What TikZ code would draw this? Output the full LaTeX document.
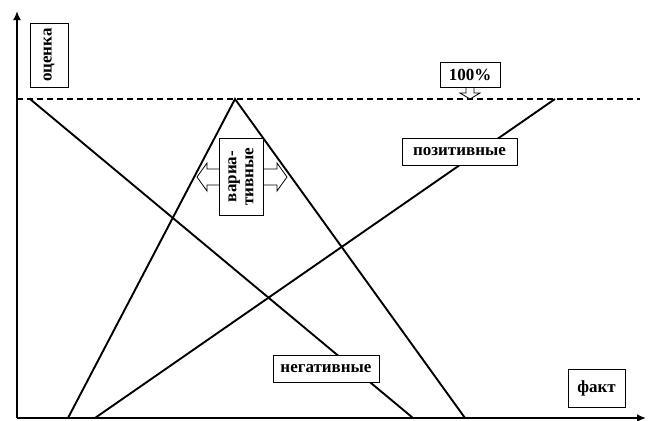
\documentclass[tikz,border=0pt]{standalone}
\usepackage{fontspec}
\setmainfont{Liberation Serif}
\usetikzlibrary{arrows.meta}
\begin{document}
\begin{tikzpicture}[x=1pt,y=-1pt,>={Latex[length=9pt,width=8pt]},
  lbl/.style={draw,fill=white,line width=0.8pt,inner sep=0pt,
    font=\fontsize{17}{17}\selectfont\bfseries}]
\useasboundingbox (0,0) rectangle (649,421);
% axes
\coordinate (O) at (17,418);
\coordinate (ytop) at (17,11);
\coordinate (xend) at (646,418);
\draw[->,line width=2.6pt] (O)--(ytop);
\draw[->,line width=2.6pt] (O)--(xend);
% 100% level
\coordinate (full0) at (17,99);
\coordinate (full1) at (640,99);
\draw[line width=1.2pt,dash pattern=on 6pt off 4pt] (full0)--(full1);
% the three lines
\coordinate (neg0) at (30,99);
\coordinate (neg1) at (413,418);
\coordinate (pos0) at (95,418);
\coordinate (pos1) at (555,99);
\coordinate (varL) at (68,418);
\coordinate (varT) at (235,99);
\coordinate (varR) at (465,418);
\draw[line width=1.9pt] (neg0)--(neg1);
\draw[line width=1.9pt] (pos0)--(pos1);
\draw[line width=1.9pt,line join=miter] (varL)--(varT)--(varR);
% block arrows
\coordinate (pct) at (470,99);
\draw[fill=white,line width=0.8pt] (pct)--++(-10,-6)--++(6,0)--++(0,-7)
  --++(8,0)--++(0,7)--++(6,0)--cycle;
\coordinate (var) at (242,177);
\draw[fill=white,line width=0.8pt] (var)++(-45,0)--++(10,-14)--++(0,6)
  --++(70,0)--++(0,-6)--++(10,14)--++(-10,14)--++(0,-6)--++(-70,0)
  --++(0,6)--cycle;
% labels
\node[lbl,rotate=90,minimum width=64pt,minimum height=38pt] (ocenka) at (49,55) {оценка};
\node[lbl,minimum width=60pt,minimum height=25pt] (proc) at (470,75) {100\%};
\node[lbl,minimum width=115pt,minimum height=27pt] (pozit) at (459.5,151.5) {позитивные};
\node[lbl,minimum width=106pt,minimum height=27pt] (negat) at (326,368.5) {негативные};
\node[lbl,minimum width=57pt,minimum height=38pt] (fakt) at (596.5,388) {факт};
\node[lbl,rotate=90,align=center,minimum width=77pt,minimum height=44pt,
  font=\fontsize{17}{17}\selectfont\bfseries] (variat) at (241,176.5) {вариа-\\тивные};
\end{tikzpicture}
\end{document}
